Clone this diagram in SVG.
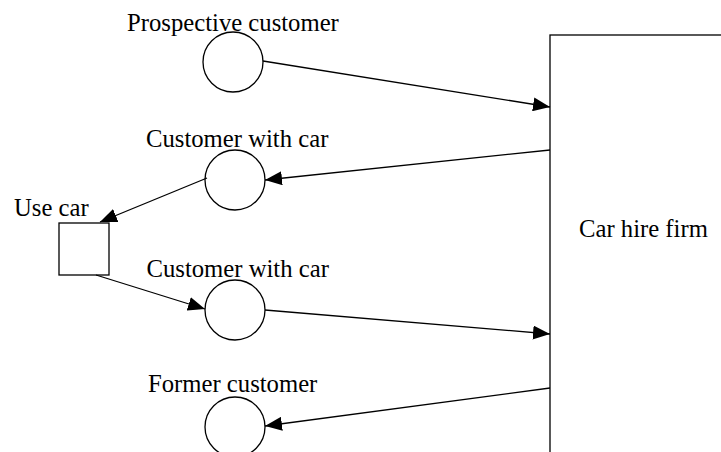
<svg xmlns="http://www.w3.org/2000/svg" width="721" height="452" viewBox="0 0 721 452">
  <style>
    .shape { fill: #ffffff; stroke: #000000; stroke-width: 1.3; }
    .label { font-family: "Liberation Serif", "Times New Roman", serif; font-size: 24.7px; fill: #000000; }
    .flow { fill: none; stroke: #000000; stroke-width: 1.3; marker-end: url(#arrow); }
  </style>
  <defs>
    <marker id="arrow" markerUnits="userSpaceOnUse" markerWidth="17" markerHeight="14" refX="17" refY="7" orient="auto">
      <path d="M0,0 L17,7 L0,14 z" fill="#000000"/>
    </marker>
  </defs>
  <rect width="721" height="452" fill="#ffffff"/>

  <g id="car-hire-firm">
    <rect class="shape" x="550" y="35" width="200" height="440"/>
    <text class="label" x="579" y="237">Car hire firm</text>
  </g>

  <g id="prospective-customer">
    <circle class="shape" cx="233" cy="62" r="30"/>
    <text class="label" x="127" y="31">Prospective customer</text>
  </g>

  <g id="customer-with-car-1">
    <circle class="shape" cx="235" cy="180" r="30"/>
    <text class="label" x="146" y="147">Customer with car</text>
  </g>

  <g id="use-car">
    <rect class="shape" x="59" y="223" width="50" height="52"/>
    <text class="label" x="14" y="216">Use car</text>
  </g>

  <g id="customer-with-car-2">
    <circle class="shape" cx="235" cy="310" r="30"/>
    <text class="label" x="146.5" y="277">Customer with car</text>
  </g>

  <g id="former-customer">
    <circle class="shape" cx="235" cy="427" r="30"/>
    <text class="label" x="148" y="392">Former customer</text>
  </g>

  <g id="connectors">
    <line class="flow" x1="263" y1="61" x2="550" y2="107"/>
    <line class="flow" x1="550" y1="150" x2="265" y2="180"/>
    <line class="flow" x1="207" y1="178" x2="100" y2="222"/>
    <line class="flow" x1="96" y1="275" x2="205" y2="309"/>
    <line class="flow" x1="265" y1="310" x2="550" y2="334"/>
    <line class="flow" x1="550" y1="388" x2="265" y2="426"/>
  </g>
</svg>
